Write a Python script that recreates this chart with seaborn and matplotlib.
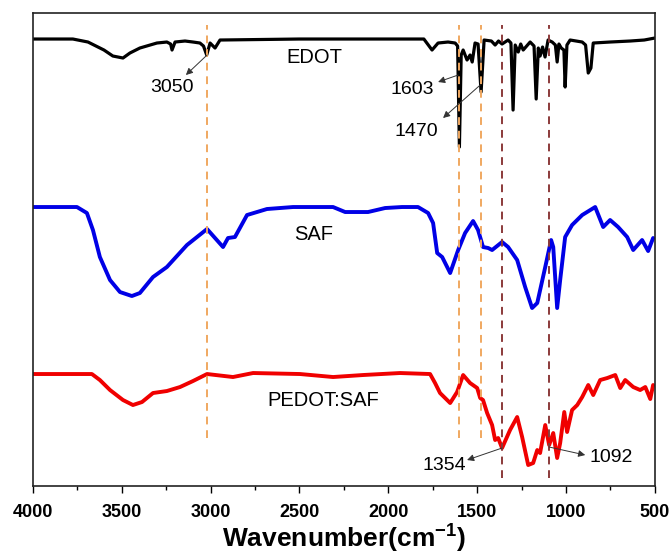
"""FTIR spectra of EDOT, SAF and PEDOT:SAF with the marked bands."""

import matplotlib

matplotlib.use("Agg")
import matplotlib.pyplot as plt
import pandas as pd
import seaborn as sns

# wavenumber (cm-1) and offset transmittance (a.u.)
edot_wn = [4000, 3775, 3690, 3600, 3550, 3493, 3454, 3398, 3302, 3246, 3225, 3217, 3200, 3144,
           3099, 3060, 3040, 3022, 3003, 2975, 2947, 2500, 2000, 1800, 1754, 1720, 1664, 1624, 1610,
           1600, 1590, 1579, 1557, 1540, 1528, 1512, 1495, 1478, 1461, 1420, 1399, 1380, 1360,
           1326, 1310, 1298, 1286, 1269, 1255, 1241, 1202, 1180, 1168, 1156, 1146, 1132, 1118,
           1101, 1078, 1060, 1050, 1040, 1027, 1012, 1005, 995, 977, 909, 890, 875, 860, 847,
           752, 639, 560, 500]
edot_t = [447, 447, 444, 436, 430, 428, 433, 438, 443, 444, 442, 436, 444, 445,
          444, 443, 440, 431, 443, 438, 446, 447, 447, 447, 436, 443, 444, 443, 440,
          339, 431, 436, 426, 431, 424, 443, 442, 394, 446, 445, 441, 445, 442,
          446, 443, 376, 441, 434, 442, 436, 444, 440, 387, 438, 430, 439, 429,
          446, 444, 441, 424, 442, 438, 436, 399, 441, 446, 444, 441, 413, 418, 443,
          444, 445, 446, 448]

saf_wn = [4000, 3752, 3696, 3662, 3623, 3566, 3510, 3443, 3398, 3324, 3246, 3133, 3020, 2930,
          2902, 2863, 2795, 2683, 2536, 2311, 2243, 2187, 2114, 2018, 1923, 1833, 1776, 1748,
          1725, 1697, 1652, 1607, 1568, 1523, 1495, 1467, 1438, 1416, 1360, 1326, 1275, 1230,
          1191, 1162, 1117, 1084, 1072, 1050, 1033, 1005, 966, 909, 836, 791, 752, 707, 656,
          622, 572, 538, 510]
saf_t = [279, 279, 273, 256, 229, 206, 194, 190, 193, 209, 219, 241, 257, 239,
         248, 249, 271, 277, 279, 279, 274, 274, 274, 278, 279, 279, 273, 263,
         233, 229, 213, 236, 253, 265, 256, 239, 238, 236, 244, 239, 226, 199,
         178, 183, 219, 246, 239, 178, 206, 249, 261, 271, 279, 259, 266, 259, 249,
         236, 246, 235, 248]

pedot_wn = [4000, 3668, 3623, 3566, 3493, 3437, 3386, 3324, 3246, 3172, 3099, 3020, 2874, 2761,
            2497, 2311, 2142, 1934, 1765, 1737, 1709, 1652, 1613, 1579, 1540, 1500, 1483, 1467,
            1444, 1416, 1399, 1382, 1360, 1315, 1275, 1247, 1213, 1185, 1162, 1146, 1117, 1095,
            1072, 1050, 1033, 1010, 994, 966, 937, 909, 875, 847, 808, 768, 723, 695, 667,
            622, 583, 554, 526, 510]
pedot_t = [112, 112, 106, 96, 86, 81, 84, 93, 95, 99, 105, 112, 109, 113,
           112, 109, 111, 113, 112, 103, 93, 83, 94, 111, 103, 98, 88, 86,
           73, 61, 46, 48, 38, 56, 69, 49, 21, 23, 36, 33, 61, 41,
           53, 28, 43, 74, 54, 76, 81, 89, 101, 91, 106, 108, 111, 98, 106,
           99, 96, 99, 87, 101]

# marked bands
orange_bands = [3020, 1600, 1478]
red_bands = [1360, 1095]

sns.set_style("ticks")
plt.rcParams["font.family"] = ["Liberation Sans", "DejaVu Sans"]
plt.rcParams["mathtext.fontset"] = "custom"
plt.rcParams["mathtext.bf"] = "Liberation Sans:bold"
plt.rcParams["mathtext.rm"] = "Liberation Sans"
plt.rcParams["text.color"] = "black"
plt.rcParams["axes.labelcolor"] = "black"
plt.rcParams["xtick.color"] = "black"

fig = plt.figure(figsize=(6.71, 5.54), dpi=100)
ax = fig.add_axes([0.049, 0.1227, 0.927, 0.8538])

for wn, t, color, lw in [(edot_wn, edot_t, "black", 2.3),
                         (saf_wn, saf_t, "#0000e6", 2.8),
                         (pedot_wn, pedot_t, "#f00000", 2.8)]:
    df = pd.DataFrame({"wn": wn, "t": t})
    sns.lineplot(data=df, x="wn", y="t", color=color, lw=lw, estimator=None, ax=ax,
                 solid_joinstyle="round", solid_capstyle="round")

for band in orange_bands:
    ax.vlines(band, 48, 461, colors="#f0a860", linestyles=(0, (4, 3)), lw=1.4, zorder=3)
for band in red_bands:
    ax.vlines(band, 8, 461, colors="#8b3a3a", linestyles=(0, (4, 3)), lw=1.4, zorder=3)

ax.text(2418, 429, "EDOT", fontsize=14.5, ha="center", va="center")
ax.text(2418, 252, "SAF", fontsize=14.5, ha="center", va="center")
ax.text(2367, 86, "PEDOT:SAF", fontsize=14.5, ha="center", va="center")

arrow = dict(arrowstyle="-|>", color="#333333", lw=0.7, mutation_scale=10, shrinkA=0, shrinkB=0)
notes = [("3050", (3217, 399), (3020, 431), (3139, 411)),
         ("1603", (1866, 397), (1607, 411), (1720, 404)),
         ("1470", (1844, 355), (1483, 401), (1692, 368)),
         ("1354", (1686, 21), (1360, 38), (1557, 26)),
         ("1092", (746, 29), (1095, 39), (892, 31))]
for label, text_xy, tail, head in notes:
    ax.annotate("", xy=head, xytext=tail, arrowprops=arrow)
    ax.text(*text_xy, label, fontsize=14, ha="center", va="center")

ax.set_xlim(4000, 500)
ax.set_ylim(0, 473)
ax.set_xticks(range(4000, 499, -500))
ax.set_xticks(range(3750, 500, -500), minor=True)
ax.set_yticks([])
ax.tick_params(axis="x", which="major", direction="out", length=5, width=1, labelsize=13, pad=8)
ax.tick_params(axis="x", which="minor", direction="out", length=3, width=1)
for lab in ax.get_xticklabels():
    lab.set_fontweight("bold")
ax.set_xlabel(r"Wavenumber(cm$\mathbf{^{-1}}$)", fontsize=19, fontweight="bold", labelpad=1)
ax.set_ylabel("")
for side in ["left", "right", "top", "bottom"]:
    ax.spines[side].set_visible(True)
    ax.spines[side].set_linewidth(1.2)
    ax.spines[side].set_color("#222222")

fig.savefig("out.png", dpi=100)
